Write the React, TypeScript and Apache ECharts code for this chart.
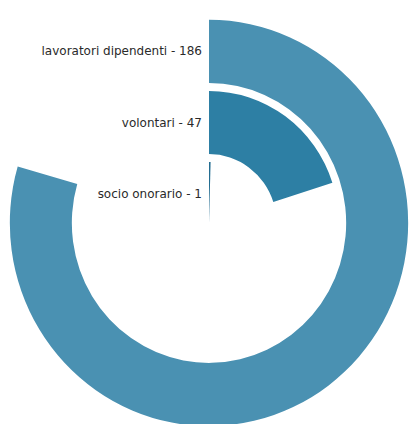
import React, { useEffect, useRef } from "react";
import * as echarts from "echarts";

const categories = ["socio onorario", "volontari", "lavoratori dipendenti"];
const values = [1, 47, 186];
const barColors = ["#236d91", "#2d7fa4", "#4a91b2"];

export default function App() {
  const ref = useRef<HTMLDivElement>(null);
  useEffect(() => {
    const chart = echarts.init(ref.current!, undefined, { renderer: "svg" });
    const total = values.reduce((a, b) => a + b, 0);
    chart.setOption({
      animation: false,
      polar: { center: [209, 218.6], radius: [-6, 203] },
      angleAxis: {
        type: "value",
        min: 0,
        max: total,
        startAngle: 90,
        clockwise: true,
        show: false,
      },
      radiusAxis: {
        type: "category",
        data: categories,
        axisLine: { show: false },
        axisTick: { show: false },
        splitLine: { show: false },
        axisLabel: {
          interval: 0,
          margin: 7,
          fontFamily: "DejaVu Sans",
          fontSize: 12,
          color: "#2a2a2a",
          formatter: (v: string) => {
            const i = categories.indexOf(v);
            return `${v} - ${values[i]}`;
          },
        },
        z: 10,
      },
      series: [
        {
          type: "bar",
          coordinateSystem: "polar",
          barCategoryGap: "11%",
          data: values.map((v, i) => ({ value: v, itemStyle: { color: barColors[i] } })),
        },
      ],
    });
    return () => chart.dispose();
  }, []);
  return (
    <div
      ref={ref}
      style={{
        position: "fixed",
        left: 0,
        top: 0,
        width: 409,
        height: 416,
        background: "#fff",
        transform: "scaleY(1.02)",
        transformOrigin: "0 0",
      }}
    />
  );
}
